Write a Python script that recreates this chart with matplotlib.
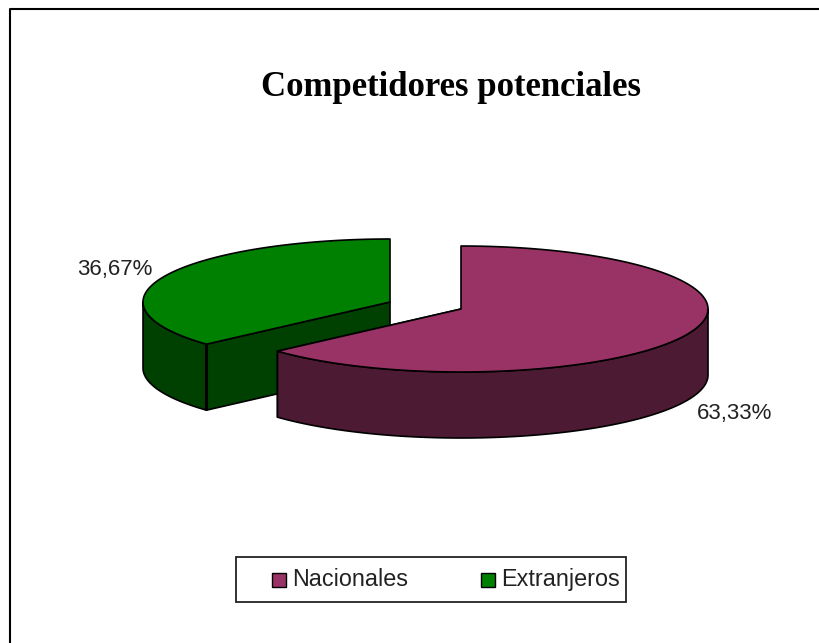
import numpy as np
import matplotlib
matplotlib.use('Agg')
import matplotlib.pyplot as plt
from matplotlib.patches import Polygon, Rectangle

title = 'Competidores potenciales'
categories = ['Nacionales', 'Extranjeros']
shares = [63.33, 36.67]
share_labels = ['63,33%', '36,67%']
top_colors = ['#993366', '#008000']
side_colors = ['#4d1a33', '#004000']

# pie geometry, pixels of the image
centers = [(461, 309), (390, 302)]
rx, ry = 247, 63
depth = 66


def rim(cx, cy, a0, a1):
    # clockwise from 12 o'clock, flattened circle
    t = np.radians(np.linspace(a0, a1, 200))
    return np.column_stack([cx + rx * np.sin(t), cy - ry * np.cos(t)])


def draw_slice(ax, center, a0, a1, top, side):
    cx, cy = center
    edge = dict(edgecolor='black', linewidth=1.2, joinstyle='round')
    # inner cut face first, it sits behind the outer wall
    for a in (a0, a1):
        p = rim(cx, cy, a, a)[:1]
        face = [(cx, cy), tuple(p[0]), (p[0][0], p[0][1] + depth), (cx, cy + depth)]
        if np.sin(np.radians(a)) < 0 and np.cos(np.radians(a)) < 0:
            ax.add_patch(Polygon(face, closed=True, facecolor=side, **edge))
    # outer wall, only the part that faces the viewer
    lo, hi = max(a0, 90), min(a1, 270)
    if hi > lo:
        arc = rim(cx, cy, lo, hi)
        wall = np.vstack([arc, arc[::-1] + [0, depth]])
        ax.add_patch(Polygon(wall, closed=True, facecolor=side, **edge))
    outline = np.vstack([[(cx, cy)], rim(cx, cy, a0, a1)])
    ax.add_patch(Polygon(outline, closed=True, facecolor=top, **edge))


fig = plt.figure(figsize=(8.2, 6.43), dpi=100)
ax = fig.add_axes([0, 0, 1, 1])
ax.set_xlim(0, 820)
ax.set_ylim(643, 0)
ax.axis('off')

# chart frame, runs off the image right and below
ax.plot([820, 10.5, 10.5], [8.5, 8.5, 643], color='black', lw=1.5)

# angles come from the shares
sweep = np.cumsum([0] + shares) / sum(shares) * 360
draw_slice(ax, centers[1], sweep[1], sweep[2], top_colors[1], side_colors[1])
corner = rim(centers[1][0], centers[1][1], sweep[1], sweep[1])[0]
ax.plot([corner[0], corner[0]], [corner[1], corner[1] + depth], color='black', lw=2.2,
        solid_capstyle='butt')
draw_slice(ax, centers[0], sweep[0], sweep[1], top_colors[0], side_colors[0])

ax.text(451, 88, title, family='Liberation Serif', weight='bold', fontsize=25,
        ha='center', va='center', color='black')

ax.text(735, 414, share_labels[0], family='Liberation Sans', fontsize=16, ha='center',
        va='center', color='#222222')
ax.text(115, 269, share_labels[1], family='Liberation Sans', fontsize=16, ha='center',
        va='center', color='#222222')

# legend
ax.add_patch(Rectangle((236, 557), 390, 45, facecolor='white', edgecolor='#222222', lw=1.3))
for x, name, color in zip([272.5, 481], categories, top_colors):
    ax.add_patch(Rectangle((x, 572.5), 14, 14, facecolor=color, edgecolor='black', lw=1))
    ax.text(x + 20, 579.5, name, family='Liberation Sans', fontsize=16.8, ha='left',
            va='center', color='#222222')

fig.savefig('out.png', dpi=100)
